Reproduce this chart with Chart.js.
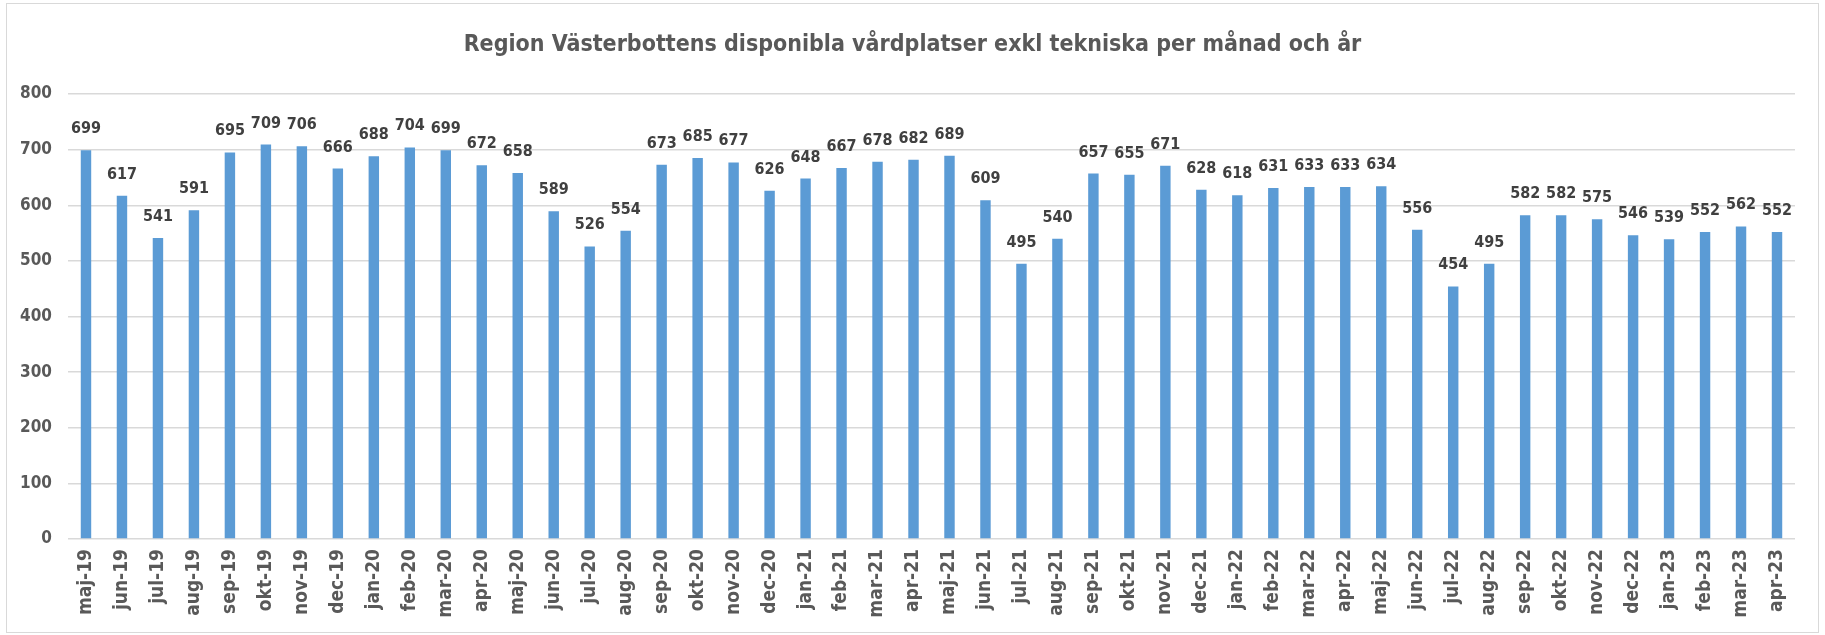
<!DOCTYPE html>
<html><head><meta charset="utf-8">
<script src="https://cdn.jsdelivr.net/npm/chart.js@4/dist/chart.umd.min.js"></script>
<style>html,body{margin:0;padding:0;background:#fff;}#wrap{width:1825px;height:635px;position:relative;}</style>
</head><body><div id="wrap"><canvas id="c" width="1825" height="635"></canvas></div>
<script>
const titleText = "Region Västerbottens disponibla vårdplatser exkl tekniska per månad och år";
const months = ["maj-19","jun-19","jul-19","aug-19","sep-19","okt-19","nov-19","dec-19","jan-20","feb-20","mar-20","apr-20","maj-20","jun-20","jul-20","aug-20","sep-20","okt-20","nov-20","dec-20","jan-21","feb-21","mar-21","apr-21","maj-21","jun-21","jul-21","aug-21","sep-21","okt-21","nov-21","dec-21","jan-22","feb-22","mar-22","apr-22","maj-22","jun-22","jul-22","aug-22","sep-22","okt-22","nov-22","dec-22","jan-23","feb-23","mar-23","apr-23"];
const beds = [699,617,541,591,695,709,706,666,688,704,699,672,658,589,526,554,673,685,677,626,648,667,678,682,689,609,495,540,657,655,671,628,618,631,633,633,634,556,454,495,582,582,575,546,539,552,562,552];
const yTicks = [0,100,200,300,400,500,600,700,800];

const FONT = "'DejaVu Sans Condensed','Liberation Sans Narrow','Liberation Sans',sans-serif";

const labelPlugin = {
  id: 'valueLabels',
  afterDatasetsDraw(chart) {
    const ctx = chart.ctx;
    const meta = chart.getDatasetMeta(0);
    ctx.save();
    ctx.font = "bold 16px " + FONT;
    ctx.fillStyle = '#404040';
    ctx.textAlign = 'center';
    ctx.textBaseline = 'alphabetic';
    meta.data.forEach((bar, i) => {
      ctx.fillText(String(chart.data.datasets[0].data[i]), bar.x, bar.y - 17);
    });
    ctx.restore();
  }
};
const titlePlugin = {
  id: 'centeredTitle',
  afterDraw(chart) {
    const ctx = chart.ctx;
    ctx.save();
    ctx.font = "bold 23px " + FONT;
    ctx.fillStyle = '#595959';
    ctx.textAlign = 'center';
    ctx.textBaseline = 'middle';
    ctx.fillText(titleText, chart.width / 2, 45);
    ctx.restore();
  }
};
const borderPlugin = {
  id: 'outerBorder',
  afterDraw(chart) {
    const ctx = chart.ctx;
    ctx.save();
    ctx.strokeStyle = '#D9D9D9';
    ctx.lineWidth = 1;
    ctx.strokeRect(6.5, 3.5, 1812, 629);
    ctx.restore();
  }
};

new Chart(document.getElementById('c'), {
  type: 'bar',
  data: {
    labels: months,
    datasets: [{
      data: beds,
      backgroundColor: '#5B9BD5',
      borderWidth: 0,
      barPercentage: 0.29,
      categoryPercentage: 1.0
    }]
  },
  options: {
    responsive: false,
    animation: false,
    events: [],
    layout: { padding: { left: 0, right: 30, top: 94, bottom: 0 } },
    plugins: {
      legend: { display: false },
      tooltip: { enabled: false },
      title: { display: false }
    },
    scales: {
      x: {
        grid: { display: false, drawTicks: false },
        border: { display: false },
        ticks: {
          color: '#595959',
          font: { family: FONT, size: 19, weight: 'bold' },
          maxRotation: 90, minRotation: 90,
          autoSkip: false,
          padding: 10
        },
        afterFit(s) { s.height = 96; }
      },
      y: {
        min: 0, max: 800,
        afterBuildTicks(s) { s.ticks = yTicks.map(v => ({ value: v })); },
        grid: { color: '#D9D9D9', lineWidth: 1.5, drawTicks: false },
        border: { display: false },
        ticks: {
          color: '#595959',
          font: { family: FONT, size: 17, weight: 'bold' },
          padding: 16
        },
        afterFit(s) { s.width = 68; }
      }
    }
  },
  plugins: [labelPlugin, titlePlugin, borderPlugin]
});
</script>
</body></html>
